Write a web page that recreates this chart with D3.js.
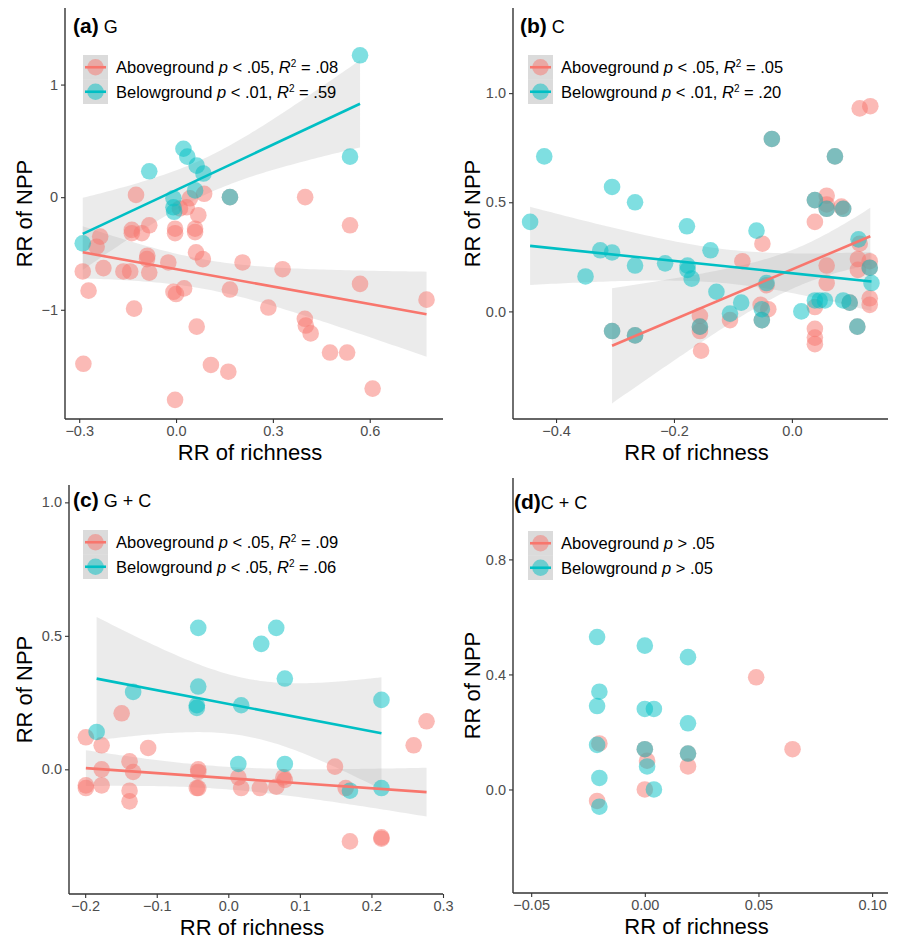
<!DOCTYPE html>
<html>
<head>
<meta charset="utf-8">
<script src="https://cdn.jsdelivr.net/npm/d3@7"></script>
<style>
  body { margin: 0; background: #fff; }
  svg { display: block; font-family: "Liberation Sans", Arial, sans-serif; }
</style>
</head>
<body>
<svg id="chart" width="897" height="940"></svg>
<script>
// points: [RR of richness, RR of NPP]
const aAbove = [
  [-0.124, 0.02], [0.40, 0.0], [0.033, -0.09], [0.043, -0.01], [0.087, 0.03], [0.069, -0.16],
  [0.012, -0.10], [0.539, -0.25], [-0.083, -0.25], [-0.137, -0.29], [-0.003, -0.28], [0.059, -0.28],
  [-0.235, -0.35], [-0.137, -0.32], [-0.106, -0.32], [-0.003, -0.32], [0.059, -0.31], [0.167, 0.0],
  [-0.246, -0.44], [-0.289, -0.66], [-0.225, -0.63], [-0.163, -0.66], [-0.142, -0.66], [-0.089, -0.52],
  [-0.09, -0.55], [-0.083, -0.67], [-0.024, -0.58], [0.062, -0.49], [0.083, -0.55], [0.206, -0.58],
  [0.330, -0.64], [0.570, -0.77], [0.776, -0.91], [-0.271, -0.83], [-0.008, -0.84], [0.0, -0.86],
  [0.025, -0.81], [0.167, -0.82], [0.286, -0.98], [-0.130, -0.99], [0.064, -1.15], [0.399, -1.08],
  [0.402, -1.14], [0.417, -1.21], [0.477, -1.38], [0.530, -1.38], [-0.287, -1.48], [0.108, -1.49],
  [0.162, -1.55], [0.609, -1.70], [-0.003, -1.80]
];
const aBelow = [
  [0.570, 1.26], [0.539, 0.36], [0.023, 0.43], [0.035, 0.36], [0.064, 0.28], [0.085, 0.21],
  [-0.083, 0.23], [-0.008, -0.01], [-0.008, -0.09], [-0.006, -0.13], [0.167, 0.0], [0.059, 0.06],
  [-0.289, -0.41]
];
const bAbove = [
  [0.115, 0.93], [0.133, 0.94], [-0.034, 0.79], [0.073, 0.71], [0.059, 0.53], [0.039, 0.51],
  [0.059, 0.49], [0.059, 0.47], [0.087, 0.47], [0.084, 0.48], [0.039, 0.41], [-0.050, 0.31],
  [-0.084, 0.23], [-0.043, 0.12], [-0.105, -0.04], [-0.053, 0.03], [-0.040, 0.01], [-0.156, -0.02],
  [-0.156, -0.07], [-0.156, -0.09], [-0.154, -0.18], [-0.305, -0.09], [-0.266, -0.11], [0.059, 0.21],
  [0.059, 0.13], [0.115, 0.31], [0.112, 0.24], [0.112, 0.19], [0.132, 0.23], [0.132, 0.20],
  [0.132, 0.06], [0.132, 0.03], [0.039, 0.02], [0.098, 0.04], [0.039, -0.08], [0.039, -0.12],
  [0.039, -0.15], [0.111, -0.07], [-0.051, -0.04]
];
const bBelow = [
  [-0.034, 0.79], [0.073, 0.71], [-0.42, 0.71], [-0.305, 0.57], [-0.266, 0.50], [-0.444, 0.41],
  [0.039, 0.51], [0.059, 0.47], [0.087, 0.47], [-0.178, 0.39], [-0.060, 0.37], [-0.35, 0.16],
  [-0.325, 0.28], [-0.305, 0.27], [-0.266, 0.21], [-0.215, 0.22], [-0.177, 0.21], [-0.177, 0.19],
  [-0.170, 0.15], [-0.138, 0.28], [-0.128, 0.09], [-0.043, 0.13], [-0.086, 0.04], [-0.105, -0.01],
  [-0.051, 0.01], [-0.051, -0.04], [-0.156, -0.07], [-0.305, -0.09], [-0.266, -0.11], [0.113, 0.33],
  [0.132, 0.20], [0.135, 0.13], [0.039, 0.05], [0.056, 0.05], [0.047, 0.05], [0.087, 0.05],
  [0.098, 0.04], [0.016, 0.0], [0.111, -0.07]
];
const cAbove = [
  [-0.149, 0.21], [-0.199, 0.12], [-0.177, 0.09], [-0.112, 0.08], [0.277, 0.18], [0.259, 0.09],
  [0.149, 0.01], [-0.177, 0.0], [-0.138, 0.03], [-0.133, -0.01], [-0.042, 0.0], [-0.042, -0.01],
  [0.014, -0.03], [0.077, -0.03], [0.079, -0.04], [-0.199, -0.06], [-0.199, -0.07], [-0.177, -0.06],
  [-0.138, -0.08], [-0.138, -0.12], [-0.044, -0.07], [-0.042, -0.07], [0.018, -0.07], [0.044, -0.07],
  [0.067, -0.065], [0.164, -0.07], [0.170, -0.27], [0.214, -0.26], [0.214, -0.255]
];
const cBelow = [
  [-0.042, 0.53], [0.067, 0.53], [0.046, 0.47], [0.079, 0.34], [-0.042, 0.31], [-0.133, 0.29],
  [-0.044, 0.24], [-0.044, 0.23], [0.018, 0.24], [0.214, 0.26], [-0.184, 0.14], [0.014, 0.02],
  [0.079, 0.02], [0.170, -0.08], [0.214, -0.07]
];
const dAbove = [
  [0.049, 0.39], [-0.020, 0.16], [0.000, 0.14], [0.001, 0.10], [0.019, 0.125], [0.019, 0.08],
  [0.065, 0.14], [0.000, 0.00], [-0.021, -0.04]
];
const dBelow = [
  [-0.021, 0.53], [0.000, 0.50], [0.019, 0.46], [-0.020, 0.34], [-0.021, 0.29], [0.000, 0.28],
  [0.004, 0.28], [0.019, 0.23], [-0.021, 0.155], [0.000, 0.14], [0.001, 0.08], [0.019, 0.125],
  [-0.020, 0.04], [0.004, 0.00], [-0.020, -0.06]
];

// fitted lines as [intercept, slope]; null where p > .05
const aFits = [[-0.639, -0.516], [0.063, 1.345]];
const bFits = [[0.192, 1.146], [0.175, -0.282]];
const cFits = [[-0.033, -0.189], [0.245, -0.515]];
const dFits = [null, null];

const panelTags = ['(a)', '(b)', '(c)', '(d)'];
const panelNames = ['G', 'C', 'G + C', 'C + C'];
const aboveStats = [['< .05', '.08'], ['< .05', '.05'], ['< .05', '.09'], ['> .05', null]];
const belowStats = [['< .01', '.59'], ['< .01', '.20'], ['< .05', '.06'], ['> .05', null]];

const xTicks = [[-0.3, 0, 0.3, 0.6], [-0.4, -0.2, 0], [-0.2, -0.1, 0, 0.1, 0.2, 0.3], [-0.05, 0, 0.05, 0.1]];
const yTicks = [[-1, 0, 1], [0, 0.5, 1], [0, 0.5, 1], [0, 0.4, 0.8]];
const xDigits = [1, 1, 1, 2];
const yDigits = [0, 1, 1, 1];
const xDomains = [[-0.344, 0.827], [-0.473, 0.163], [-0.2226, 0.30], [-0.058, 0.107]];
const yDomains = [[-1.97, 1.68], [-0.493, 1.39], [-0.467, 1.065], [-0.36, 1.083]];

const RED = '#F8766D', TEAL = '#00BFC4';
const ALPHA = 0.5;

const boxes = [
  { l: 65, r: 443, t: 8, b: 419 },
  { l: 513, r: 888, t: 8, b: 419 },
  { l: 69, r: 443, t: 485, b: 894 },
  { l: 513, r: 888, t: 478, b: 893 }
];
const legendTop = [55, 55, 530, 531];
const titleBase = [33, 33, 507, 509];

const svg = d3.select('#chart');
const fmt = (d, n) => (d < 0 ? '\u2212' : '') + Math.abs(d).toFixed(n);

function bandPoints(pts, fit, x) {
  const n = pts.length;
  const mx = d3.mean(pts, (d) => d[0]);
  const sxx = d3.sum(pts, (d) => (d[0] - mx) ** 2);
  const sse = d3.sum(pts, (d) => (d[1] - fit[0] - fit[1] * d[0]) ** 2);
  const s = Math.sqrt(sse / (n - 2));
  const t = 1.96 + 2.5 / (n - 2);
  const se = s * Math.sqrt(1 / n + (x - mx) ** 2 / sxx);
  const y = fit[0] + fit[1] * x;
  return [y - t * se, y + t * se];
}

const allAbove = [aAbove, bAbove, cAbove, dAbove];
const allBelow = [aBelow, bBelow, cBelow, dBelow];
const allFits = [aFits, bFits, cFits, dFits];

allAbove.forEach((above, i) => {
  const box = boxes[i];
  const x = d3.scaleLinear().domain(xDomains[i]).range([box.l, box.r]);
  const y = d3.scaleLinear().domain(yDomains[i]).range([box.b, box.t]);
  const g = svg.append('g');
  const groups = [[above, RED, allFits[i][0]], [allBelow[i], TEAL, allFits[i][1]]];

  // confidence bands
  groups.forEach(([pts, col, fit]) => {
    if (!fit) return;
    const [x0, x1] = d3.extent(pts, (d) => d[0]);
    const xs = d3.range(0, 81).map((k) => x0 + (x1 - x0) * k / 80);
    const area = d3.area()
      .x((d) => x(d))
      .y0((d) => y(bandPoints(pts, fit, d)[0]))
      .y1((d) => y(bandPoints(pts, fit, d)[1]));
    g.append('path').attr('d', area(xs)).attr('fill', '#999').attr('fill-opacity', 0.2);
  });

  // points
  groups.forEach(([pts, col]) => {
    g.append('g').selectAll('circle').data(pts).join('circle')
      .attr('cx', (d) => x(d[0]))
      .attr('cy', (d) => y(d[1]))
      .attr('r', 8.3)
      .attr('fill', col)
      .attr('fill-opacity', ALPHA);
  });

  // fitted lines
  groups.forEach(([pts, col, fit]) => {
    if (!fit) return;
    const ext = d3.extent(pts, (d) => d[0]);
    g.append('path')
      .attr('d', d3.line().x((d) => x(d)).y((d) => y(fit[0] + fit[1] * d))(ext))
      .attr('stroke', col).attr('stroke-width', 2.6).attr('fill', 'none');
  });

  // axes
  const xAxis = g.append('g').attr('transform', `translate(0,${box.b})`)
    .call(d3.axisBottom(x).tickValues(xTicks[i]).tickSize(4).tickSizeOuter(0).tickFormat((d) => fmt(d, xDigits[i])));
  const yAxis = g.append('g').attr('transform', `translate(${box.l},0)`)
    .call(d3.axisLeft(y).tickValues(yTicks[i]).tickSize(4).tickSizeOuter(0).tickFormat((d) => fmt(d, yDigits[i])));
  [xAxis, yAxis].forEach((ax) => {
    ax.select('.domain').attr('stroke', '#333').attr('stroke-width', 1.4);
    ax.selectAll('.tick line').attr('stroke', '#333').attr('stroke-width', 1.1);
    ax.selectAll('.tick text').attr('fill', '#4d4d4d').style('font-size', '14.5px')
      .style('font-family', '"Liberation Sans", Arial, sans-serif');
  });
  xAxis.select('.domain').attr('d', `M${box.l},0H${box.r}`);
  yAxis.select('.domain').attr('d', `M0,${box.t}V${box.b}`);
  xAxis.selectAll('.tick text').attr('dy', '0.71em').attr('y', 7);
  yAxis.selectAll('.tick text').attr('x', -7);

  // axis titles
  g.append('text').attr('x', (box.l + box.r) / 2 - 4).attr('y', box.b + 41)
    .attr('text-anchor', 'middle').style('font-size', '22px').text('RR of richness');
  g.append('text')
    .attr('transform', `translate(${(i % 2 ? 448 : 0) + 32},${(box.t + box.b) / 2}) rotate(-90)`)
    .attr('text-anchor', 'middle').style('font-size', '22px').text('RR of NPP');

  // panel title
  const title = g.append('text').attr('x', box.l + (i === 1 ? 7 : i === 3 ? 1 : 8 - (i === 2 ? 4 : 0))).attr('y', titleBase[i]);
  title.append('tspan').style('font-weight', 'bold').style('font-size', '21px').text(panelTags[i]);
  title.append('tspan').attr('dx', i === 3 ? 0 : 5).style('font-size', '18px').text(panelNames[i]);

  // legend
  const lx = (i % 2 ? 528 : 83), ly = legendTop[i];
  const stats = [aboveStats[i], belowStats[i]];
  const labels = ['Aboveground', 'Belowground'];
  [RED, TEAL].forEach((col, k) => {
    const ky = ly + k * 24.5;
    g.append('rect').attr('x', lx).attr('y', ky).attr('width', 25).attr('height', 24.5)
      .attr('fill', '#999').attr('fill-opacity', 0.35);
    g.append('circle').attr('cx', lx + 12.5).attr('cy', ky + 12.25).attr('r', 8.3)
      .attr('fill', col).attr('fill-opacity', ALPHA);
    g.append('line').attr('x1', lx + 2).attr('x2', lx + 23).attr('y1', ky + 12.25).attr('y2', ky + 12.25)
      .attr('stroke', col).attr('stroke-width', 2.6);
    const t = g.append('text').attr('x', lx + 33).attr('y', ky + 18).style('font-size', '16.5px');
    t.append('tspan').text(labels[k] + ' ');
    t.append('tspan').style('font-style', 'italic').text('p');
    t.append('tspan').text(' ' + stats[k][0] + (stats[k][1] ? ', ' : ''));
    if (stats[k][1]) {
      t.append('tspan').style('font-style', 'italic').text('R');
      t.append('tspan').attr('dy', -6).style('font-size', '10px').text('2');
      t.append('tspan').attr('dy', 6).text(' = ' + stats[k][1]);
    }
  });
});
</script>
</body>
</html>
